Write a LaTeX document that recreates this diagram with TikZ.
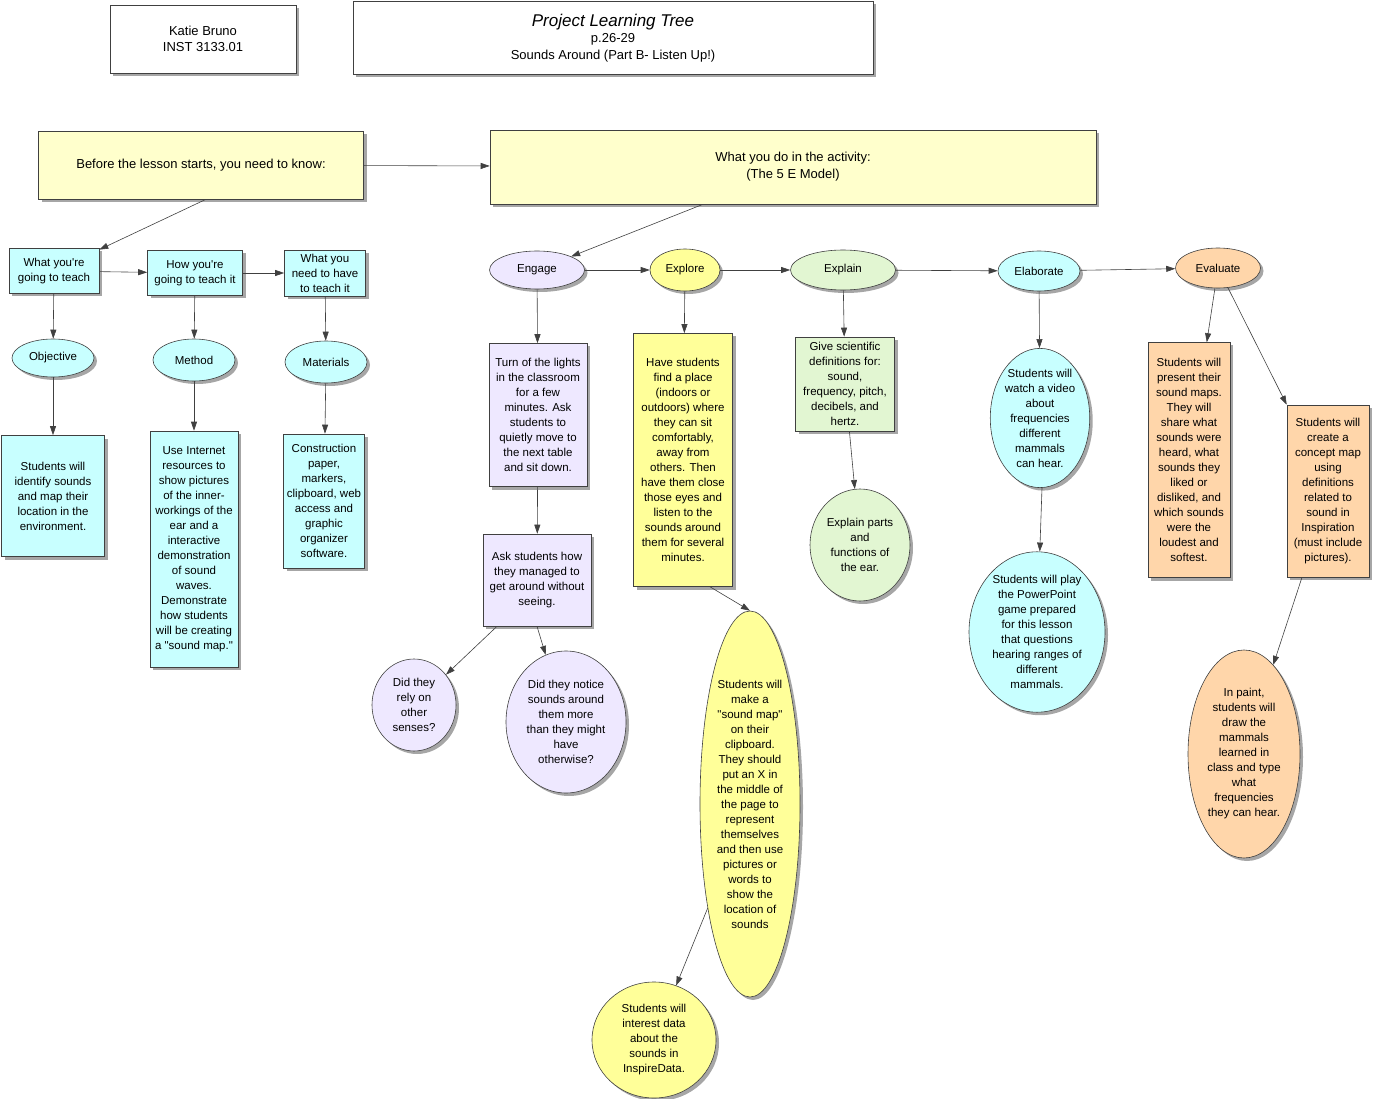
\documentclass[tikz,border=0pt]{standalone}
\usepackage{fontspec}
\setmainfont{Liberation Sans}[Ligatures=TeXOff]
\usetikzlibrary{shadows,arrows.meta,shapes.geometric}
\newcommand\dq{"}
\definecolor{cy}{HTML}{C8FFFF}
\definecolor{lav}{HTML}{EEE8FF}
\definecolor{yel}{HTML}{FFFF99}
\definecolor{grn}{HTML}{E2F6D2}
\definecolor{org}{HTML}{FFD6AA}
\definecolor{hy}{HTML}{FFFFCC}
\definecolor{ln}{HTML}{404040}
\tikzset{
 base/.style={draw=ln,line width=0.6pt,align=center,inner sep=1pt,font=\fontsize{11.5}{15}\selectfont,
   drop shadow={shadow xshift=3pt,shadow yshift=-3pt,fill=gray!70,opacity=1}},
 box/.style={base,rectangle,minimum width=#1},
 ell/.style={base,ellipse,inner sep=0pt},
 conn/.style={draw=ln,line width=0.6pt,-{Triangle[length=9pt,width=6pt]}}
}
\begin{document}
\begin{tikzpicture}[x=1pt,y=-1pt]
\useasboundingbox (0,0) rectangle (1374,1099);
\node[box=186,minimum height=68,fill=white,font=\fontsize{13}{16}\selectfont] (katie) at (203,39) {Katie Bruno\\INST 3133.01};
\node[box=520,minimum height=73,fill=white,font=\fontsize{13}{16.5}\selectfont] (title) at (613,38) {{\fontsize{17}{20}\selectfont\itshape Project Learning Tree}\\p.26-29\\Sounds Around (Part B- Listen Up!)};
\node[box=325,minimum height=68,fill=hy,font=\fontsize{13}{16}\selectfont] (before) at (201,165) {Before the lesson starts, you need to know:};
\node[box=606,minimum height=74,fill=hy,font=\fontsize{13}{17}\selectfont] (what) at (793,167) {What you do in the activity:\\(The 5 E Model)};
\node[box=90,minimum height=45,fill=cy] (teach) at (54,271) {What you're\\going to teach};
\node[box=95,minimum height=45,fill=cy] (how) at (195,273) {How you're\\going to teach it};
\node[box=81,minimum height=46,fill=cy] (need) at (325,273) {What you\\need to have\\to teach it};
\node[ell,fill=cy,minimum width=82,minimum height=38] (obj) at (53,358) {Objective};
\node[ell,fill=cy,minimum width=82,minimum height=42] (meth) at (194,360) {Method};
\node[ell,fill=cy,minimum width=82,minimum height=42] (mat) at (326,362) {Materials};
\node[box=103,minimum height=121,fill=cy] (objb) at (53,496) {Students will\\identify sounds\\and map their\\location in the\\environment.};
\node[box=88,minimum height=236,fill=cy] (methb) at (194,549) {Use Internet\\resources to\\show pictures\\of the inner-\\workings of the\\ear and a\\interactive\\demonstration\\of sound\\waves.\\Demonstrate\\how students\\will be creating\\a \dq sound map.\dq};
\node[box=81,minimum height=134,fill=cy] (matb) at (324,501) {Construction\\paper,\\markers,\\clipboard, web\\access and\\graphic\\organizer\\software.};
\node[ell,fill=lav,minimum width=95,minimum height=38] (eng) at (537,270) {Engage};
\node[ell,fill=yel,minimum width=70,minimum height=42] (exp) at (685,270) {Explore};
\node[ell,fill=grn,minimum width=105,minimum height=40] (expl) at (843,270) {Explain};
\node[ell,fill=cy,minimum width=82,minimum height=40] (elab) at (1039,271) {Elaborate};
\node[ell,fill=org,minimum width=85,minimum height=40] (eval) at (1218,268) {Evaluate};
\node[box=98,minimum height=143,fill=lav] (engb) at (538,415) {Turn of the lights\\in the classroom\\for a few\\minutes. Ask\\students to\\quietly move to\\the next table\\and sit down.};
\node[box=108,minimum height=92,fill=lav] (ask) at (537,580) {Ask students how\\they managed to\\get around without\\seeing.};
\node[ell,fill=lav,minimum width=84,minimum height=92] (rely) at (414,705) {Did they\\rely on\\other\\senses?};
\node[ell,fill=lav,minimum width=120,minimum height=142] (notice) at (566,722) {Did they notice\\sounds around\\them more\\than they might\\have\\otherwise?};
\node[box=99,minimum height=253,fill=yel] (expb) at (683,460) {Have students\\find a place\\(indoors or\\outdoors) where\\they can sit\\comfortably,\\away from\\others. Then\\have them close\\those eyes and\\listen to the\\sounds around\\them for several\\minutes.};
\node[ell,fill=yel,minimum width=100,minimum height=386] (smap) at (750,804) {Students will\\make a\\\dq sound map\dq\\on their\\clipboard.\\They should\\put an X in\\the middle of\\the page to\\represent\\themselves\\and then use\\pictures or\\words to\\show the\\location of\\sounds};
\node[ell,fill=yel,minimum width=124,minimum height=116] (inter) at (654,1040) {Students will\\interest data\\about the\\sounds in\\InspireData.};
\node[box=99,minimum height=94,fill=grn] (explb) at (845,384) {Give scientific\\definitions for:\\sound,\\frequency, pitch,\\decibels, and\\hertz.};
\node[ell,fill=grn,minimum width=100,minimum height=112] (parts) at (860,545) {Explain parts\\and\\functions of\\the ear.};
\node[ell,fill=cy,minimum width=98,minimum height=126] (el1) at (1040,418) {Students will\\watch a video\\about\\frequencies\\different\\mammals\\can hear.};
\node[ell,fill=cy,minimum width=136,minimum height=156] (el2) at (1037,632) {Students will play\\the PowerPoint\\game prepared\\for this lesson\\that questions\\hearing ranges of\\different\\mammals.};
\node[box=82,minimum height=235,fill=org] (ev1) at (1189,460) {Students will\\present their\\sound maps.\\They will\\share what\\sounds were\\heard, what\\sounds they\\liked or\\disliked, and\\which sounds\\were the\\loudest and\\softest.};
\node[box=82,minimum height=172,fill=org] (ev2) at (1328,491) {Students will\\create a\\concept map\\using\\definitions\\related to\\sound in\\Inspiration\\(must include\\pictures).};
\node[ell,fill=org,minimum width=112,minimum height=208] (ev3) at (1244,754) {In paint,\\students will\\draw the\\mammals\\learned in\\class and type\\what\\frequencies\\they can hear.};
\draw[conn] ([xshift=5pt]before.south) -- (teach);
\draw[conn] (before) -- (what);
\draw[conn] ([xshift=-90pt]what.south) -- (eng);
\draw[conn] (teach) -- (how);
\draw[conn] (how) -- (need);
\draw[conn] (teach) -- (obj);
\draw[conn] (how) -- (meth);
\draw[conn] (need) -- (mat);
\draw[conn] (obj) -- (objb);
\draw[conn] (meth) -- (methb);
\draw[conn] (mat) -- (matb);
\draw[conn] (eng) -- (exp);
\draw[conn] (exp) -- (expl);
\draw[conn] (expl) -- (elab);
\draw[conn] (elab) -- (eval);
\draw[conn] (eng) -- (engb);
\draw[conn] (engb) -- (ask);
\draw[conn] ([xshift=-40pt]ask.south) -- (rely);
\draw[conn] (ask.south) -- (notice);
\draw[conn] (exp) -- (expb);
\draw[conn] ([xshift=27pt]expb.south) -- (smap.north);
\draw[conn] (smap) -- (inter);
\draw[conn] (expl) -- (explb);
\draw[conn] (explb) -- (parts);
\draw[conn] (elab) -- (el1);
\draw[conn] ([xshift=2pt]el1.south) -- (el2);
\draw[conn] (eval) -- (ev1);
\draw[conn] (eval) -- (ev2.north west);
\draw[conn] ([xshift=-26pt]ev2.south) -- (ev3);
\end{tikzpicture}
\end{document}
